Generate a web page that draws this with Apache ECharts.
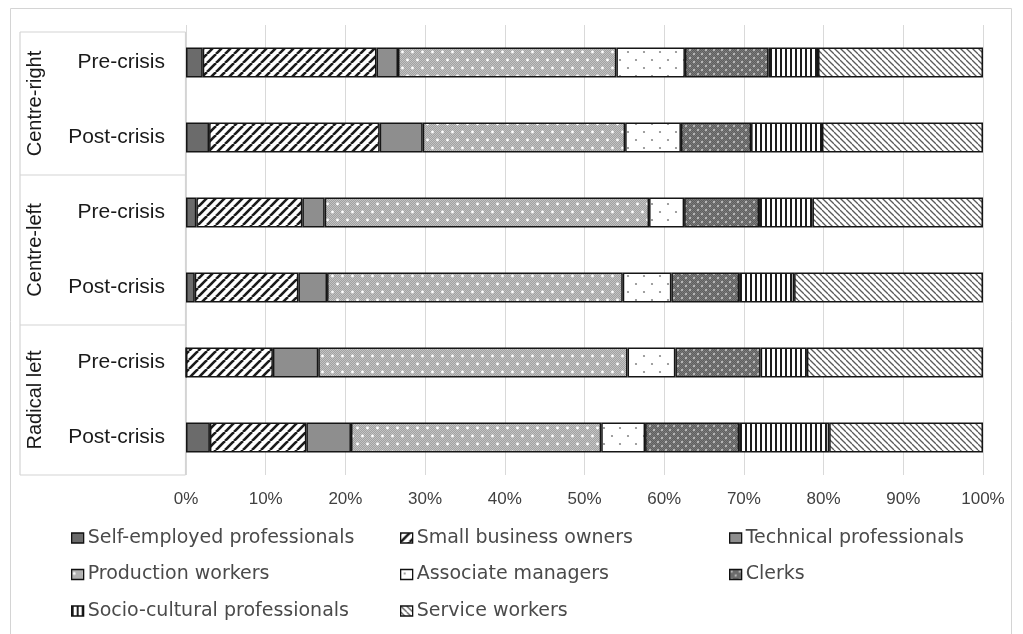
<!DOCTYPE html>
<html><head><meta charset="utf-8">
<script src="https://cdn.jsdelivr.net/npm/echarts@6/dist/echarts.min.js"></script>
<style>html,body{margin:0;padding:0;background:#fff}#c{width:1023px;height:634px}</style>
</head><body><div id="c"></div>
<script>
const groups = ['Centre-right', 'Centre-left', 'Radical left'];
const periods = ['Pre-crisis', 'Post-crisis'];
const categories = ['Centre-right|Pre-crisis', 'Centre-right|Post-crisis', 'Centre-left|Pre-crisis', 'Centre-left|Post-crisis', 'Radical left|Pre-crisis', 'Radical left|Post-crisis'];
const seriesNames = ['Self-employed professionals', 'Small business owners', 'Technical professionals', 'Production workers', 'Associate managers', 'Clerks', 'Socio-cultural professionals', 'Service workers'];
const selfEmployed  = [2.1, 2.9, 1.3, 1.1, 0, 3.0];
const smallBusiness = [21.8, 21.4, 13.3, 13.0, 10.9, 12.1];
const technical     = [2.7, 5.4, 2.8, 3.6, 5.7, 5.6];
const production    = [27.4, 25.4, 40.7, 37.1, 38.8, 31.4];
const associate     = [8.6, 7.0, 4.4, 6.1, 6.0, 5.5];
const clerks        = [10.5, 8.8, 9.4, 8.5, 10.7, 11.8];
const socioCultural = [6.2, 8.9, 6.7, 6.9, 5.8, 11.3];
const service       = [20.7, 20.2, 21.4, 23.7, 22.1, 19.3];
const xTicks = [0, 10, 20, 30, 40, 50, 60, 70, 80, 90, 100];
const seriesValues = [selfEmployed, smallBusiness, technical, production, associate, clerks, socioCultural, service];

function tile(w, h, draw) {
  const c = document.createElement('canvas');
  c.width = w; c.height = h;
  const g = c.getContext('2d');
  draw(g, w, h);
  return { image: c, repeat: 'repeat' };
}
const patterns = [
  '#6b6b6b',
  tile(9, 9, (g, w, h) => {
    g.fillStyle = '#fff'; g.fillRect(0, 0, w, h);
    g.strokeStyle = '#1a1a1a'; g.lineWidth = 2.6;
    for (let k = -1; k <= 1; k++) { g.beginPath(); g.moveTo(k * w, h); g.lineTo(k * w + w, 0); g.stroke(); }
  }),
  '#8e8e8e',
  tile(10, 16, (g, w, h) => {
    for (let y = 0; y < h; y++) for (let x = 0; x < w; x++) { g.fillStyle = ((x + y) % 2) ? '#a2a2a2' : '#c2c2c2'; g.fillRect(x, y, 1, 1); }
    g.fillStyle = '#fff';
    g.beginPath(); g.arc(2.5, 4, 1.4, 0, 7); g.fill();
    g.beginPath(); g.arc(7.5, 12, 1.4, 0, 7); g.fill();
  }),
  tile(16, 16, (g, w, h) => {
    g.fillStyle = '#fff'; g.fillRect(0, 0, w, h);
    g.fillStyle = '#8a8a8a';
    g.beginPath(); g.arc(4, 4, 1.1, 0, 7); g.fill();
    g.beginPath(); g.arc(12, 12, 1.1, 0, 7); g.fill();
  }),
  tile(8, 8, (g, w, h) => {
    for (let y = 0; y < h; y++) for (let x = 0; x < w; x++) { g.fillStyle = ((x + y) % 2) ? '#5e5e5e' : '#7a7a7a'; g.fillRect(x, y, 1, 1); }
    g.fillStyle = '#b8b8b8';
    g.beginPath(); g.arc(2, 2, 1.2, 0, 7); g.fill();
    g.beginPath(); g.arc(6, 6, 1.2, 0, 7); g.fill();
  }),
  tile(5, 4, (g, w, h) => {
    g.fillStyle = '#fff'; g.fillRect(0, 0, w, h);
    g.fillStyle = '#1e1e1e'; g.fillRect(0, 0, 2, h);
  }),
  tile(6, 6, (g, w, h) => {
    g.fillStyle = '#fff'; g.fillRect(0, 0, w, h);
    g.strokeStyle = '#5a5a5a'; g.lineWidth = 1.3;
    for (let k = -1; k <= 1; k++) { g.beginPath(); g.moveTo(k * w, 0); g.lineTo(k * w + w, h); g.stroke(); }
  })
];

const FONT = '"Liberation Sans", Arial, sans-serif';
const LEGEND_FONT = '"DejaVu Sans", sans-serif';
const chart = echarts.init(document.getElementById('c'), null, { renderer: 'canvas' });

const legendCols = [[0, 3, 6], [1, 4, 7], [2, 5]];
const legendLeft = [71, 400, 729];

const option = {
  backgroundColor: '#fff',
  animation: false,
  grid: { left: 186, right: 40, top: 25, bottom: 159 },
  xAxis: {
    type: 'value', min: 0, max: 100, interval: 10,
    axisLine: { show: false }, axisTick: { show: false },
    splitLine: { lineStyle: { color: '#d9d9d9', width: 1 } },
    axisLabel: { formatter: '{value}%', fontSize: 17, color: '#404040', fontFamily: FONT, margin: 16,
      customValues: xTicks }
  },
  yAxis: {
    type: 'category', inverse: true, data: categories,
    axisLine: { show: false }, axisTick: { show: false },
    axisLabel: { formatter: v => v.split('|')[1], fontSize: 21, color: '#1a1a1a', fontFamily: FONT, margin: 21 }
  },
  legend: legendCols.map((col, i) => ({
    orient: 'vertical', left: legendLeft[i], top: 528, padding: 0,
    itemWidth: 12, itemHeight: 10, itemGap: 16.5, icon: 'rect',
    selectedMode: false,
    data: col.map(k => seriesNames[k]),
    textStyle: { fontSize: 19, color: '#4a4a4a', fontFamily: LEGEND_FONT, lineHeight: 20, padding: [0, 0, 0, -1] },
    itemStyle: { borderColor: '#111', borderWidth: 1.3 }
  })),
  series: seriesNames.map((name, i) => ({
    name, type: 'bar', stack: 'total', barWidth: 30,
    data: seriesValues[i],
    itemStyle: { color: patterns[i], borderColor: '#151515', borderWidth: 1.5 },
    emphasis: { disabled: true }
  }))
};
chart.setOption(option);

// decorative label box and group labels, positioned from the axis scale
const c0 = chart.convertToPixel({ yAxisIndex: 0 }, categories[0]);
const c1 = chart.convertToPixel({ yAxisIndex: 0 }, categories[1]);
const band = c1 - c0;
const top0 = c0 - band / 2;
const xRight = chart.convertToPixel({ xAxisIndex: 0 }, 0) - 0.5;
const boxLeft = 20;
const gfx = [
  { type: 'rect', shape: { x: 10.5, y: 8.5, width: 1001, height: 640 }, style: { fill: 'none', stroke: '#d4d4d4', lineWidth: 1 }, silent: true }
];
const boxTop = top0 + 7;
const boxBottom = top0 + band * categories.length;
gfx.push({ type: 'line', shape: { x1: boxLeft, y1: boxTop, x2: xRight, y2: boxTop }, style: { stroke: '#d4d4d4', lineWidth: 1.2 } });
gfx.push({ type: 'line', shape: { x1: boxLeft, y1: boxTop, x2: boxLeft, y2: boxBottom }, style: { stroke: '#d4d4d4', lineWidth: 1.2 } });
gfx.push({ type: 'line', shape: { x1: xRight, y1: boxTop, x2: xRight, y2: boxBottom }, style: { stroke: '#d4d4d4', lineWidth: 1.2 } });
groups.forEach((gname, gi) => {
  const yb = top0 + band * periods.length * (gi + 1);
  gfx.push({ type: 'line', shape: { x1: boxLeft, y1: yb, x2: xRight, y2: yb }, style: { stroke: '#d4d4d4', lineWidth: 1.2 } });
  const yStart = gi === 0 ? boxTop : top0 + band * periods.length * gi;
  const yc = (yStart + yb) / 2;
  gfx.push({ type: 'text', x: 35, y: yc, rotation: Math.PI / 2,
    style: { text: gname, fontSize: 20, fontFamily: FONT, fill: '#1a1a1a', align: 'center', verticalAlign: 'middle' } });
});
chart.setOption({ graphic: gfx });
</script></body></html>
